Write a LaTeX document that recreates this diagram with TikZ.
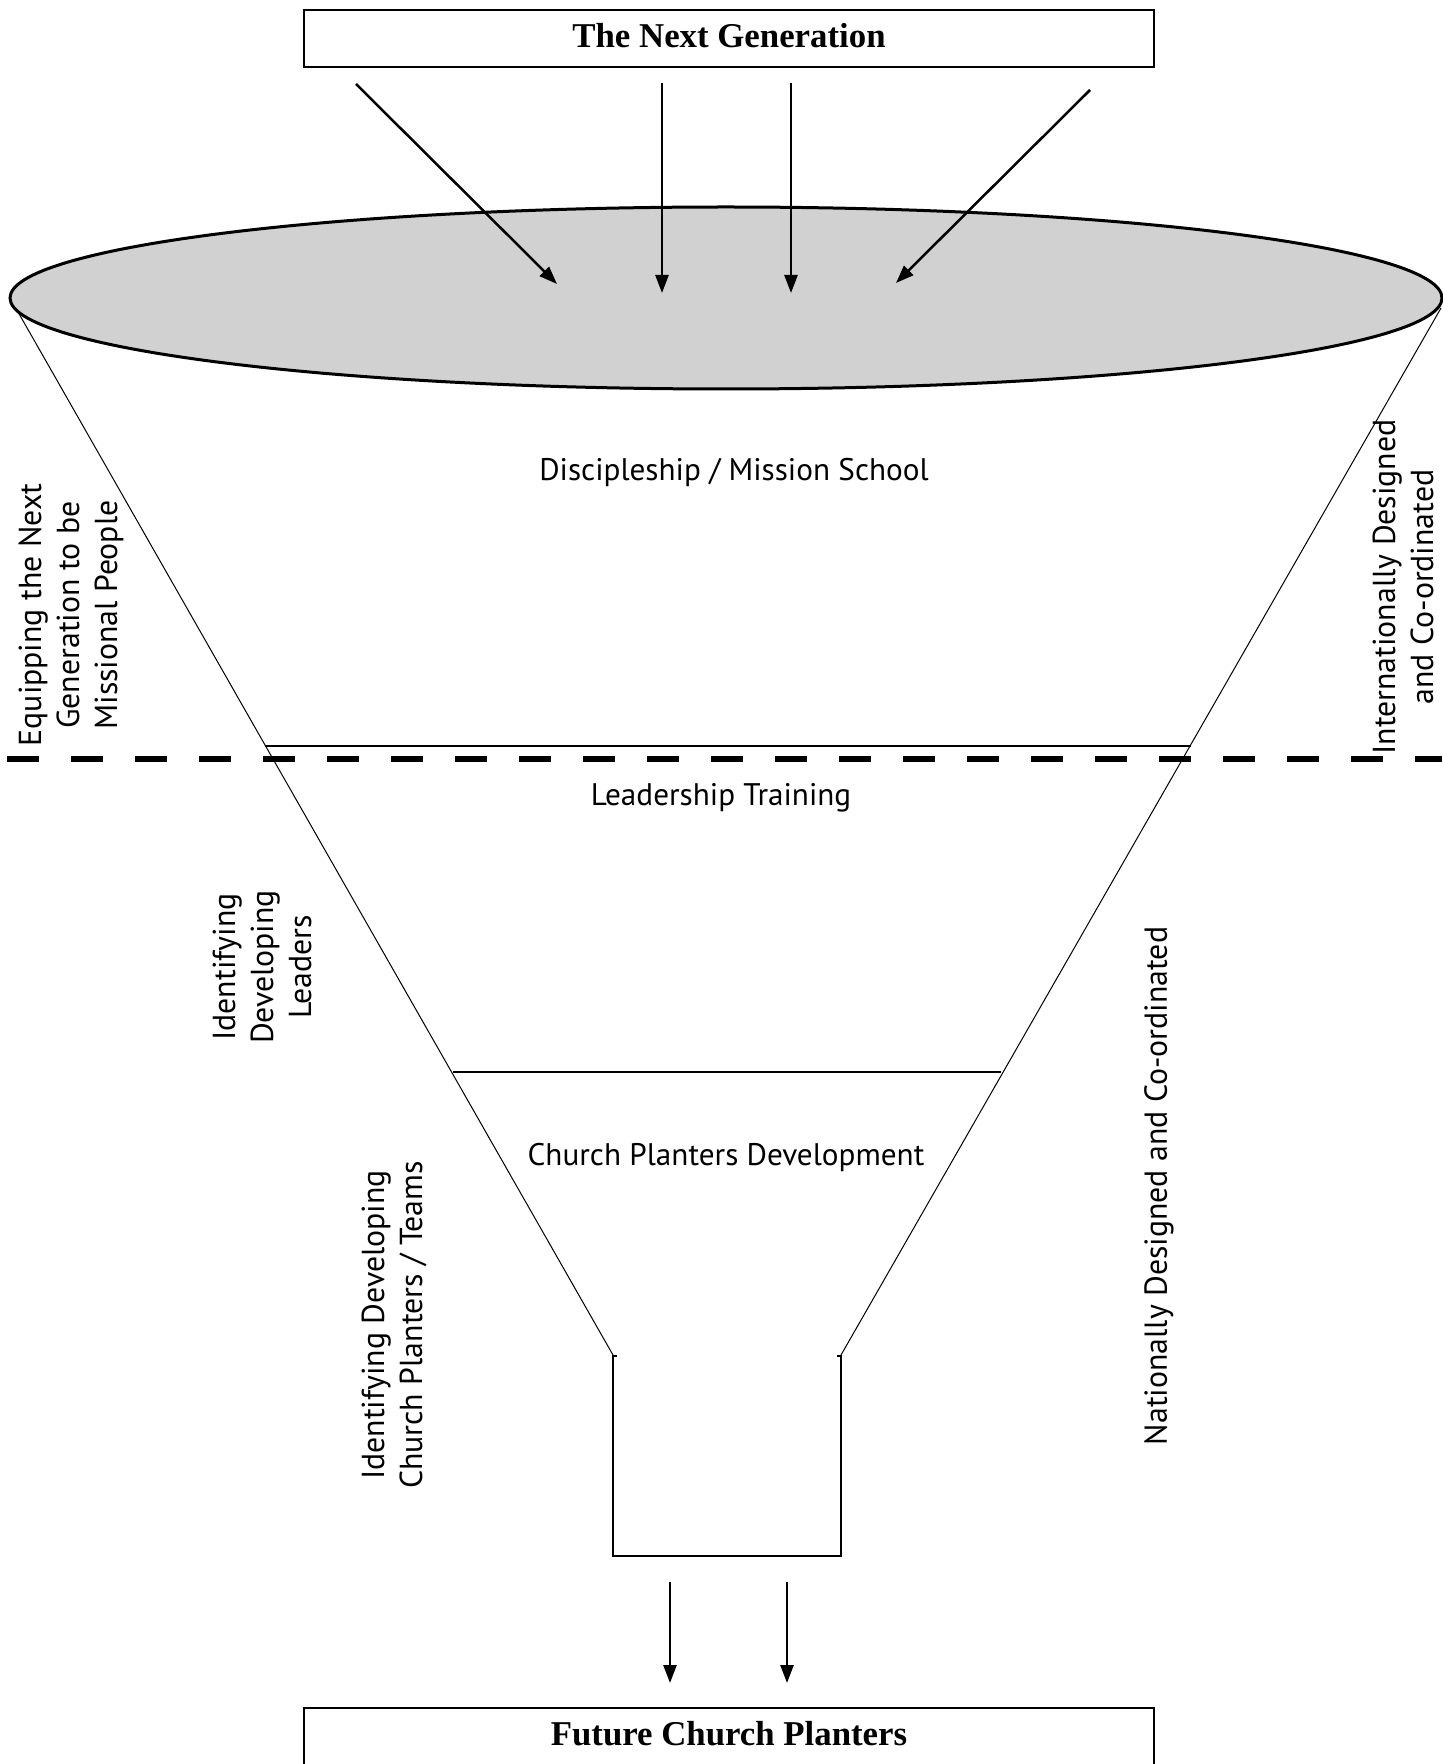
\documentclass[tikz,border=0pt]{standalone}
\usepackage{fontspec}
\setmainfont{Liberation Serif}
\newfontfamily\labelfont{PT Sans}
\usetikzlibrary{arrows.meta}
\definecolor{funnelgray}{RGB}{209,209,209}
\tikzset{
  titlebox/.style={draw, line width=0.75pt, minimum width=425pt, minimum height=28.5pt, inner sep=0pt},
  titletext/.style={inner sep=0pt, font=\fontsize{17.4}{20}\selectfont\bfseries},
  stagetext/.style={inner sep=0pt, anchor=base, font=\labelfont\fontsize{15.6}{19}\selectfont},
  sidetext/.style={inner sep=0pt, align=center, rotate=90, font=\labelfont\fontsize{15.9}{19}\selectfont},
  flowarrow/.style={line width=1.25pt, -{Triangle[length=9pt,width=6.5pt]}},
  funnelline/.style={line width=0.5pt},
  levelline/.style={line width=1.2pt},
}
\begin{document}
\begin{tikzpicture}[x=0.5pt,y=-0.5pt]
\useasboundingbox (0,0) rectangle (1442,1764);
% funnel top
\draw[fill=funnelgray, line width=1.5pt] (726,298) ellipse [x radius=716, y radius=91];
% funnel sides
\coordinate (fl1) at (18,312);
\coordinate (fl2) at (613,1355);
\coordinate (fr1) at (1441,308);
\coordinate (fr2) at (841,1355);
\draw[funnelline] (fl1) -- (fl2);
\draw[funnelline] (fr1) -- (fr2);
% level lines
\coordinate (l1a) at (265,746); \coordinate (l1b) at (1191,746);
\coordinate (l2a) at (453,1072); \coordinate (l2b) at (1001,1072);
\draw[levelline] (l1a) -- (l1b);
\draw[levelline] (l2a) -- (l2b);
% dashed divider
\coordinate (d1) at (7,759); \coordinate (d2) at (1442,759);
\draw[line width=3pt, dash pattern=on 16pt off 16pt] (d1) -- (d2);
% neck
\draw[line width=1.4pt] (617,1356) -- (613,1356) -- (613,1556) -- (841,1556) -- (841,1356) -- (837,1356);
% boxes
\node[titlebox] (top) at (729,38.75) {};
\node[titletext] (toptext) at (729,36) {The Next Generation};
\node[titlebox] (bottom) at (729,1736.5) {};
\node[titletext] (bottomtext) at (729,1734) {Future Church Planters};
% arrows in
\coordinate (a1s) at (356,84);  \coordinate (a1e) at (557,284);
\coordinate (a2s) at (662,83);  \coordinate (a2e) at (662,293);
\coordinate (a3s) at (791,83);  \coordinate (a3e) at (791,293);
\coordinate (a4s) at (1090,90); \coordinate (a4e) at (896,283);
\draw[flowarrow] (a1s) -- (a1e);
\draw[flowarrow] (a2s) -- (a2e);
\draw[flowarrow] (a3s) -- (a3e);
\draw[flowarrow] (a4s) -- (a4e);
% arrows out
\coordinate (b1s) at (670,1582); \coordinate (b1e) at (670,1683);
\coordinate (b2s) at (787,1582); \coordinate (b2e) at (787,1683);
\draw[flowarrow] (b1s) -- (b1e);
\draw[flowarrow] (b2s) -- (b2e);
% stage labels
\node[stagetext] (disc) at (734,481) {Discipleship / Mission School};
\node[stagetext] (lead) at (721,805) {Leadership Training};
\node[stagetext] (cpd) at (726,1165) {Church Planters Development};
% side labels
\node[sidetext] (equip) at (71,615) {Equipping the Next\\Generation to be\\Missional People};
\node[sidetext] (intl) at (1403,587) {Internationally Designed\\and Co-ordinated};
\node[sidetext] (ident1) at (262,967) {Identifying\\Developing\\Leaders};
\node[sidetext] (ident2) at (394,1325) {Identifying Developing\\Church Planters / Teams};
\node[sidetext] (natl) at (1159,1186) {Nationally Designed and Co-ordinated};
\end{tikzpicture}
\end{document}
